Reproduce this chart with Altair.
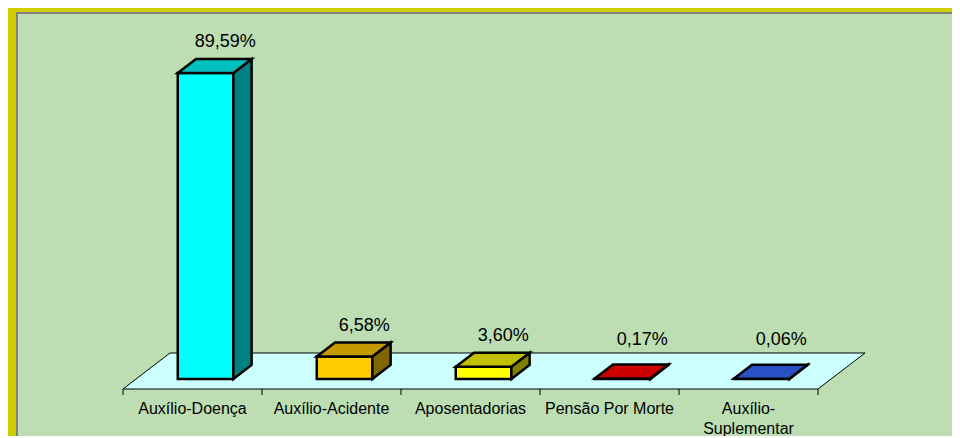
import pandas as pd
import altair as alt

# ---- data ----
categories = ["Auxílio-Doença", "Auxílio-Acidente", "Aposentadorias",
              "Pensão Por Morte", "Auxílio-Suplementar"]
values = [89.59, 6.58, 3.60, 0.17, 0.06]
label_lines = [["Auxílio-Doença"], ["Auxílio-Acidente"], ["Aposentadorias"],
               ["Pensão Por Morte"], ["Auxílio-", "Suplementar"]]

# ---- styles ----
front_colors = ["#00FFFF", "#FFCC00", "#FFFF00", "#FF0000", "#3366FF"]
top_colors = ["#00C0C0", "#C49A00", "#C0C000", "#CC0000", "#2B4FC4"]
side_colors = ["#008080", "#806600", "#808000", "#800000", "#1A3380"]
BG_GREEN, FRAME_YELLOW, FRAME_GRAY = "#BCDEB2", "#D0CC00", "#808080"
FONT = "Liberation Sans"

# ---- layout / projection constants (page pixels) ----
SVG_W, SVG_H = 944, 428
PAD_L, PAD_T = 10, 6
W, H = SVG_W - PAD_L, SVG_H - PAD_T
ORG_X, ORG_Y = 8 + PAD_L, 8 + PAD_T          # plot origin on the page
CAT0_X, BASE_Y = 192.5, 379                    # first category centre, bar base
PX_PER_U = 139.0
PX_PER_PCT = 306 / 89.59
KX = 47 / PX_PER_U          # floor depth shift in category units
KY = 36 / PX_PER_PCT        # floor depth shift in percent units
D_FRONT, D_BACK = 10 / 36, 24 / 36
HALF_W = 0.2
X_DOM = [(ORG_X - CAT0_X) / PX_PER_U, (ORG_X + W - CAT0_X) / PX_PER_U]
Y_DOM = [(BASE_Y - ORG_Y - H) / PX_PER_PCT, (BASE_Y - ORG_Y) / PX_PER_PCT]
LABEL_DX_U = 0.235
LABEL_GAP = 9.0                       # percent units above value
LABEL_MIN = KY * (1 - D_FRONT) + 3.8  # just above the floor's back edge


def proj(u, v, d):
    return u + KX * d, v + KY * (d - D_FRONT)


n = len(categories)
front, top, side, floor, ticks, labels, cats = [], [], [], [], [], [], []
fy = proj(0, 0, 0)[1]
for i, (c, v) in enumerate(zip(categories, values)):
    xl, y0 = proj(i - HALF_W, 0, D_FRONT)
    xr, _ = proj(i + HALF_W, 0, D_FRONT)
    front.append(dict(cat=c, x=xl, x2=xr, y=y0, y2=v))
    for d in (D_FRONT, D_BACK):
        a, Y = proj(i - HALF_W, v, d)
        b, _ = proj(i + HALF_W, v, d)
        top.append(dict(cat=c, Y=Y, xl=a, xr=b))
        X, lo = proj(i + HALF_W, 0, d)
        _, hi = proj(i + HALF_W, v, d)
        side.append(dict(cat=c, X=X, lo=lo, hi=hi))
    labels.append(dict(cat=c, x=i + LABEL_DX_U, y=max(v + LABEL_GAP, LABEL_MIN),
                       text=f"{v:.2f}%".replace(".", ",")))
    cats.append(dict(cat=c, x=i, y=fy, text="\n".join(label_lines[i])))
for d in (0, 1):
    a, Y = proj(-0.5, 0, d)
    b, _ = proj(n - 0.5, 0, d)
    floor.append(dict(Y=Y, xl=a, xr=b))
for k in range(n + 1):
    ticks.append(dict(x=k - 0.5, y=fy, y2=fy - 6 / PX_PER_PCT))

xs = alt.Scale(domain=X_DOM, nice=False, zero=False)
ys = alt.Scale(domain=Y_DOM, nice=False, zero=False)


def fill(rng):
    return alt.Fill("cat:N", scale=alt.Scale(domain=categories, range=rng), legend=None)


floor_layer = alt.Chart(pd.DataFrame(floor)).mark_area(
    orient="horizontal", fill="#CCFFFF", stroke="black", strokeWidth=1
).encode(
    y=alt.Y("Y:Q", scale=ys, axis=None),
    x=alt.X("xl:Q", scale=xs, stack=None, axis=None),
    x2="xr:Q",
)

tick_layer = alt.Chart(pd.DataFrame(ticks)).mark_rule(color="black", strokeWidth=1).encode(
    x=alt.X("x:Q", scale=xs, axis=None),
    y=alt.Y("y:Q", scale=ys, axis=None),
    y2="y2:Q",
)

cat_layer = alt.Chart(pd.DataFrame(cats)).mark_text(
    font=FONT, fontSize=16, color="black", baseline="top", align="center",
    lineBreak="\n", lineHeight=20, dy=12
).encode(
    x=alt.X("x:Q", scale=xs, axis=None),
    y=alt.Y("y:Q", scale=ys, axis=None),
    text="text:N",
)

front_layer = alt.Chart(pd.DataFrame(front)).mark_rect(
    stroke="black", strokeWidth=2.5, strokeJoin="miter"
).encode(
    x=alt.X("x:Q", scale=xs, axis=None),
    x2="x2:Q",
    y=alt.Y("y:Q", scale=ys, axis=None),
    y2="y2:Q",
    fill=fill(front_colors),
)

side_layer = alt.Chart(pd.DataFrame(side)).mark_area(
    orient="vertical", stroke="black", strokeWidth=2.5, strokeJoin="miter"
).encode(
    x=alt.X("X:Q", scale=xs, axis=None),
    y=alt.Y("lo:Q", scale=ys, axis=None, stack=None),
    y2="hi:Q",
    fill=fill(side_colors),
    detail="cat:N",
)

top_layer = alt.Chart(pd.DataFrame(top)).mark_area(
    orient="horizontal", stroke="black", strokeWidth=2.5, strokeJoin="miter"
).encode(
    y=alt.Y("Y:Q", scale=ys, axis=None),
    x=alt.X("xl:Q", scale=xs, axis=None, stack=None),
    x2="xr:Q",
    fill=fill(top_colors),
    detail="cat:N",
)

label_layer = alt.Chart(pd.DataFrame(labels)).mark_text(
    font=FONT, fontSize=18, color="black", baseline="middle", align="center"
).encode(
    x=alt.X("x:Q", scale=xs, axis=None),
    y=alt.Y("y:Q", scale=ys, axis=None),
    text="text:N",
)

# decorative frame: yellow strips on the left and top, grey inner edge
frame_df = pd.DataFrame(floor)
yellow_left = alt.Chart(frame_df).mark_rule(color=FRAME_YELLOW, strokeWidth=8).encode(
    x=alt.value(-PAD_L + 4), y=alt.value(-PAD_T), y2=alt.value(H)
)
yellow_top = alt.Chart(frame_df).mark_rule(color=FRAME_YELLOW, strokeWidth=5).encode(
    x=alt.value(-PAD_L), x2=alt.value(W), y=alt.value(-PAD_T + 2.5)
)
gray_left = alt.Chart(frame_df).mark_rule(color=FRAME_GRAY, strokeWidth=2).encode(
    x=alt.value(-1), y=alt.value(-2), y2=alt.value(H)
)
gray_top = alt.Chart(frame_df).mark_rule(color=FRAME_GRAY, strokeWidth=2).encode(
    x=alt.value(-2), x2=alt.value(W), y=alt.value(-1)
)

chart = alt.layer(
    floor_layer, tick_layer, cat_layer, front_layer, side_layer, top_layer,
    label_layer, yellow_left, yellow_top, gray_left, gray_top
).resolve_scale(
    fill="independent"
).properties(
    width=W, height=H,
    padding={"left": PAD_L, "top": PAD_T, "right": 0, "bottom": 0},
    autosize=alt.AutoSizeParams(type="none"),
    background=BG_GREEN,
).configure_view(fill=BG_GREEN, stroke=None)

chart.save("out.html", embed_options={"renderer": "svg", "actions": False})
